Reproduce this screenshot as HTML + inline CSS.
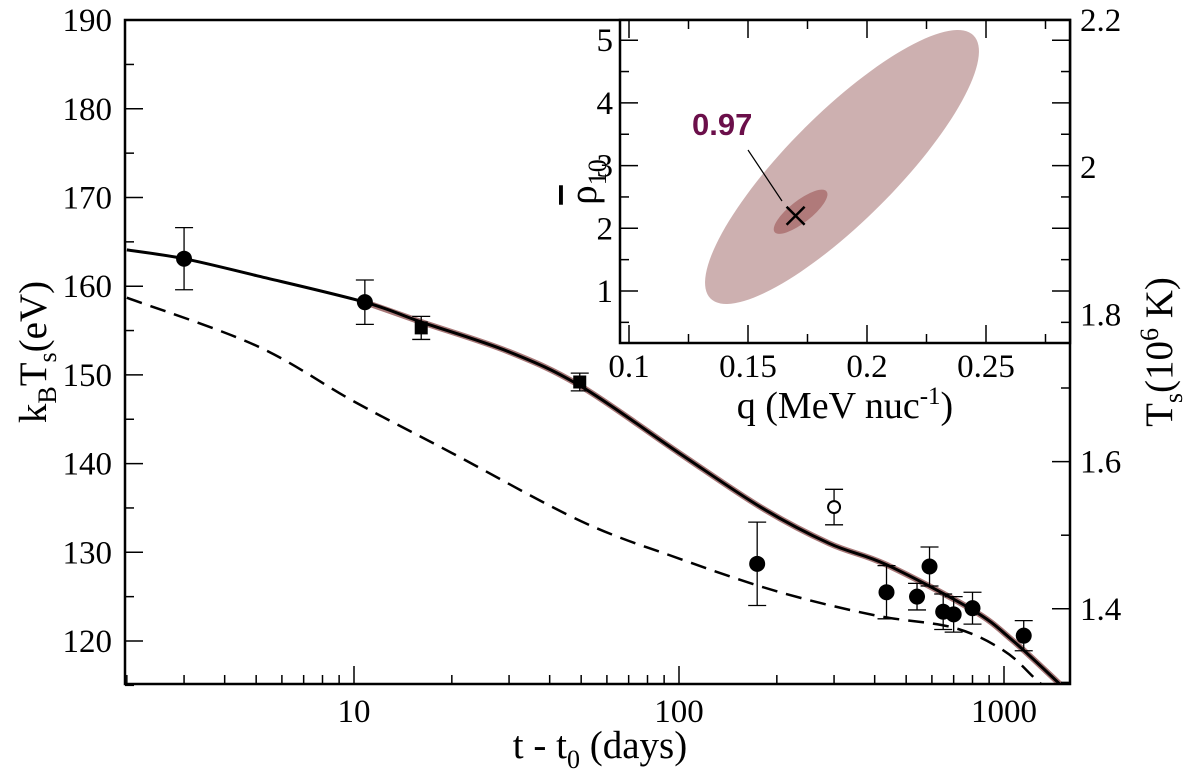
<!DOCTYPE html>
<html><head><meta charset="utf-8"><style>
body{margin:0;background:#fff;}
svg{display:block;font-family:"Liberation Serif",serif;}
</style></head><body>
<svg id="chart" width="1200" height="779" viewBox="0 0 1200 779" xmlns="http://www.w3.org/2000/svg"></svg>
<script>
// Main chart data
const obsDays = [3.0, 10.8, 16.1, 49.5, 174, 300, 435, 540, 590, 650, 700, 800, 1150];
const obsTemp = [163.1, 158.2, 155.3, 149.2, 128.7, 135.1, 125.5, 125.0, 128.4, 123.3, 123.0, 123.7, 120.6];
const obsErr = [3.5, 2.5, 1.3, 1.0, 4.7, 2.0, 3.0, 1.5, 2.2, 2.0, 2.0, 1.8, 1.7];
const obsMarker = ['c','c','s','s','c','o','c','c','c','c','c','c','c'];
const modelDays = [2, 3, 5, 10.8, 16, 30, 50, 100, 180, 290, 435, 800, 1060, 1460, 1600];
const modelTemp = [164.1, 163.1, 161.2, 158.2, 156, 152.6, 148.7, 141.2, 135, 131, 128.6, 123.5, 120.1, 115.4, 114];
const dashDays = [2, 5, 10, 20, 50, 100, 200, 400, 700, 1000, 1260, 1500];
const dashTemp = [158.7, 153.3, 147, 141.2, 133.5, 129.3, 125.6, 122.9, 121.5, 118.9, 115.6, 113.2];
const yTicks = [120, 130, 140, 150, 160, 170, 180, 190];
const xTicks = [10, 100, 1000];
const rTicks = [1.4, 1.6, 1.8, 2, 2.2];
// Inset data
const insetXTicks = [0.1, 0.15, 0.2, 0.25];
const insetYTicks = [1, 2, 3, 4, 5];
const bestFit = [0.17, 2.2];

const NS = 'http://www.w3.org/2000/svg';
const svg = document.getElementById('chart');
function mk(tag, attrs, parent) {
  const e = document.createElementNS(NS, tag);
  for (const k in attrs) e.setAttribute(k, attrs[k]);
  (parent || svg).appendChild(e);
  return e;
}
const L = 125, R = 1070, T = 20, B = 684;
const xs = t => 354 + 325 * Math.log10(t / 10);
const ys = v => 641 - (v - 120) * 88.7 / 10;
const yr = v => 20 + (2.2 - v) * 736;

function smooth(pts) {
  let d = 'M' + pts[0][0] + ',' + pts[0][1];
  for (let i = 0; i < pts.length - 1; i++) {
    const p0 = pts[i - 1] || pts[i], p1 = pts[i], p2 = pts[i + 1], p3 = pts[i + 2] || p2;
    const c1 = [p1[0] + (p2[0] - p0[0]) / 6, p1[1] + (p2[1] - p0[1]) / 6];
    const c2 = [p2[0] - (p3[0] - p1[0]) / 6, p2[1] - (p3[1] - p1[1]) / 6];
    d += ' C' + c1 + ' ' + c2 + ' ' + p2;
  }
  return d;
}

const defs = mk('defs', {});
const cp = mk('clipPath', {id: 'clip'}, defs);
mk('rect', {x: L, y: T, width: R - L, height: B - T}, cp);

const g = mk('g', {'clip-path': 'url(#clip)'});


const mPts = modelDays.map((t, i) => [xs(t), ys(modelTemp[i])]);
const band = mk('path', {d: smooth(mPts.slice(3)), fill: 'none', stroke: '#a87878', 'stroke-width': 6}, g);


const solid = mk('path', {d: smooth(mPts), fill: 'none', stroke: '#000', 'stroke-width': 3}, g);


const dPts = dashDays.map((t, i) => [xs(t), ys(dashTemp[i])]);
const dash = mk('path', {d: smooth(dPts), fill: 'none', stroke: '#000', 'stroke-width': 2.5, 'stroke-dasharray': '16,9'}, g);



obsDays.forEach((t, i) => {
  const x = xs(t), y = ys(obsTemp[i]), y1 = ys(obsTemp[i] + obsErr[i]), y2 = ys(obsTemp[i] - obsErr[i]);
  const pg = mk('g', {});
  
  
  mk('line', {x1: x, x2: x, y1: y1, y2: y2, stroke: '#000', 'stroke-width': 1.3}, pg);
  mk('line', {x1: x - 9, x2: x + 9, y1: y1, y2: y1, stroke: '#000', 'stroke-width': 1.3}, pg);
  mk('line', {x1: x - 9, x2: x + 9, y1: y2, y2: y2, stroke: '#000', 'stroke-width': 1.3}, pg);
  if (obsMarker[i] === 's') mk('rect', {x: x - 6.5, y: y - 6.5, width: 13, height: 13, fill: '#000'}, pg);
  else if (obsMarker[i] === 'o') mk('circle', {cx: x, cy: y, r: 6, fill: '#fff', stroke: '#000', 'stroke-width': 2}, pg);
  else mk('circle', {cx: x, cy: y, r: 8, fill: '#000'}, pg);
});

const frame = mk('rect', {x: L, y: T, width: R - L, height: B - T, fill: 'none', stroke: '#000', 'stroke-width': 2.5});



for (let v = 115; v <= 190; v += 5) {
  const y = ys(v);
  mk('line', {x1: L, x2: L + (v % 10 === 0 ? 18 : 9), y1: y, y2: y, stroke: '#000', 'stroke-width': 1.5});
}
yTicks.forEach(v => {
  const t = mk('text', {x: 112, y: ys(v) + 11, 'font-size': 33, 'text-anchor': 'end'});
  
  
  t.textContent = v;
});
for (let k = 13; k <= 22; k++) {
  const v = k / 10, y = yr(v);
  if (y < T || y > B) continue;
  mk('line', {x1: R, x2: R - (k % 2 === 0 ? 18 : 9), y1: y, y2: y, stroke: '#000', 'stroke-width': 1.5});
}
rTicks.forEach(v => {
  const t = mk('text', {x: 1080, y: yr(v) + 11, 'font-size': 33});
  
  
  t.textContent = v;
});
for (let dec = 1; dec <= 1000; dec *= 10) {
  for (let m = 1; m <= 9; m++) {
    const t = dec * m, x = xs(t);
    if (x <= L || x >= R) continue;
    mk('line', {x1: x, x2: x, y1: B, y2: B - (m === 1 ? 18 : 9), stroke: '#000', 'stroke-width': 1.5});
  }
}
xTicks.forEach(v => {
  const t = mk('text', {x: xs(v), y: 722, 'font-size': 33, 'text-anchor': 'middle'});
  
  
  t.textContent = v;
});

svg.insertAdjacentHTML('beforeend', `
<text x="600" y="758" font-size="39" text-anchor="middle">t - t<tspan font-size="26" dy="10">0</tspan><tspan dy="-10"> (days)</tspan></text>
<text transform="translate(46,352) rotate(-90)" font-size="39" text-anchor="middle">k<tspan font-size="26" dy="10">B</tspan><tspan dy="-10">T</tspan><tspan font-size="26" dy="10">s</tspan><tspan dy="-10">(eV)</tspan></text>
<text transform="translate(1172,352) rotate(-90)" font-size="39" text-anchor="middle">T<tspan font-size="26" dy="10">s</tspan><tspan dy="-10">(10</tspan><tspan font-size="26" dy="-14">6</tspan><tspan dy="14"> K)</tspan></text>
`);

const IL = 620, IR = 1070, IT = 20, IB = 343;
const qx = q => 629 + (q - 0.1) * 2380;
const ry = r => 291 - (r - 1) * 62.7;
const ig = mk('g', {});


mk('rect', {x: IL, y: IT, width: IR - IL, height: IB - IT, fill: '#fff'}, ig);
const cx = qx(bestFit[0]), cy = ry(bestFit[1]);
const e1 = mk('ellipse', {cx: 842, cy: 167, rx: 186, ry: 54, fill: '#cdb0b0', transform: 'rotate(-45 842 167)'}, ig);


const e2 = mk('ellipse', {cx: cx + 5, cy: cy - 4, rx: 33, ry: 11, fill: '#b07a7a', transform: `rotate(-38 ${cx + 5} ${cy - 4})`}, ig);


const xm = mk('path', {d: `M${cx-9},${cy-9}L${cx+9},${cy+9}M${cx-9},${cy+9}L${cx+9},${cy-9}`, stroke: '#000', 'stroke-width': 2.5}, ig);


mk('line', {x1: 748, y1: 150, x2: 782, y2: 201, stroke: '#000', 'stroke-width': 1.2}, ig);
const lab = mk('text', {x: 692, y: 135, 'font-size': 31, 'font-weight': 'bold', fill: '#6b0f4a', 'font-family': '"Liberation Sans", sans-serif'}, ig);


lab.textContent = '0.97';
mk('rect', {x: IL, y: IT, width: IR - IL, height: IB - IT, fill: 'none', stroke: '#000', 'stroke-width': 2.5}, ig);
for (let k = 1; k <= 10; k++) {
  const r = k / 2, y = ry(r);
  if (y < IT || y > IB) continue;
  const len = k % 2 === 0 ? 18 : 9;
  mk('line', {x1: IL, x2: IL + len, y1: y, y2: y, stroke: '#000', 'stroke-width': 1.5}, ig);
  mk('line', {x1: IR, x2: IR - len, y1: y, y2: y, stroke: '#000', 'stroke-width': 1.5}, ig);
}
for (let k = 4; k <= 11; k++) {
  const q = k * 0.025, x = qx(q);
  if (x < IL || x > IR) continue;
  const len = k % 2 === 0 ? 18 : 9;
  mk('line', {x1: x, x2: x, y1: IB, y2: IB - len, stroke: '#000', 'stroke-width': 1.5}, ig);
  mk('line', {x1: x, x2: x, y1: IT, y2: IT + len, stroke: '#000', 'stroke-width': 1.5}, ig);
}
insetYTicks.forEach(v => {
  const t = mk('text', {x: 613, y: ry(v) + 11, 'font-size': 33, 'text-anchor': 'end'}, ig);
  
  
  t.textContent = v;
});
insetXTicks.forEach(v => {
  const t = mk('text', {x: qx(v), y: 377, 'font-size': 33, 'text-anchor': 'middle'}, ig);
  
  
  t.textContent = v;
});
svg.insertAdjacentHTML('beforeend', `
<text x="845" y="418" font-size="38" text-anchor="middle">q (MeV nuc<tspan font-size="25" dy="-14">-1</tspan><tspan dy="14">)</tspan></text>
<text transform="translate(596,182) rotate(-90)" font-size="39" text-anchor="middle"><tspan text-decoration="overline">ρ</tspan><tspan font-size="26" dy="10">10</tspan></text>
`);
</script>
</body></html>
